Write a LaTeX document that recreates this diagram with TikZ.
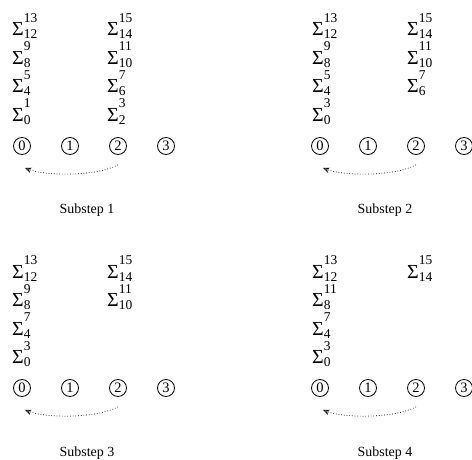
\documentclass[tikz,border=0pt]{standalone}
\usepackage{fontspec}
\setmainfont{Liberation Serif}
\usetikzlibrary{arrows.meta}
\newcommand{\sgm}[2]{{\fontsize{20}{20}\selectfont Σ}{\fontsize{13.5}{13.5}\selectfont\rlap{\raisebox{13.5bp}{#1}}\raisebox{-3bp}{#2}}}
\newcommand{\mkpanel}[4]{%
  \begin{scope}[shift={(#2,#3)}]
    \node[proc] (#1c0) at (22,146) {0};
    \node[proc] (#1c1) at (70,146) {1};
    \node[proc] (#1c2) at (118,146) {2};
    \node[proc] (#1c3) at (166,146) {3};
    \coordinate (#1s) at ([shift={(0,10)}]#1c2.south);
    \coordinate (#1e) at ([shift={(3,13)}]#1c0.south);
    \draw[flow] (#1s) .. controls +(-23,12) and +(20,8) .. (#1e);
    \node[lab] (#1lab) at (87,214) {#4};
  \end{scope}}
\begin{document}
\begin{tikzpicture}[x=1bp,y=-1bp,
  sigma/.style={anchor=base west,inner sep=0pt},
  proc/.style={draw,circle,minimum size=17bp,inner sep=0pt,line width=0.8bp,font=\fontsize{14.5}{14.5}\selectfont},
  lab/.style={anchor=base,inner sep=0pt,font=\fontsize{14}{14}\selectfont},
  flow/.style={dotted,line width=0.7bp,-{Stealth[length=6.5bp,width=5.5bp,open,line width=0.7bp]}}]
\useasboundingbox (0,0) rectangle (472,460);
\mkpanel{A}{0}{0}{Substep 1}
\mkpanel{B}{298}{0}{Substep 2}
\mkpanel{C}{0}{242}{Substep 3}
\mkpanel{D}{298}{242}{Substep 4}
% panel 1
\node[sigma] (A1) at (12,36) {\sgm{13}{12}};
\node[sigma] (A2) at (12,64.5) {\sgm{9}{8}};
\node[sigma] (A3) at (12,93) {\sgm{5}{4}};
\node[sigma] (A4) at (12,121.5) {\sgm{1}{0}};
\node[sigma] (A5) at (107,36) {\sgm{15}{14}};
\node[sigma] (A6) at (107,64.5) {\sgm{11}{10}};
\node[sigma] (A7) at (107,93) {\sgm{7}{6}};
\node[sigma] (A8) at (107,121.5) {\sgm{3}{2}};
% panel 2
\node[sigma] (B1) at (312,36) {\sgm{13}{12}};
\node[sigma] (B2) at (312,64.5) {\sgm{9}{8}};
\node[sigma] (B3) at (312,93) {\sgm{5}{4}};
\node[sigma] (B4) at (312,121.5) {\sgm{3}{0}};
\node[sigma] (B5) at (407,36) {\sgm{15}{14}};
\node[sigma] (B6) at (407,64.5) {\sgm{11}{10}};
\node[sigma] (B7) at (407,93) {\sgm{7}{6}};
% panel 3
\node[sigma] (C1) at (12,278) {\sgm{13}{12}};
\node[sigma] (C2) at (12,306.5) {\sgm{9}{8}};
\node[sigma] (C3) at (12,335) {\sgm{7}{4}};
\node[sigma] (C4) at (12,363.5) {\sgm{3}{0}};
\node[sigma] (C5) at (107,278) {\sgm{15}{14}};
\node[sigma] (C6) at (107,306.5) {\sgm{11}{10}};
% panel 4
\node[sigma] (D1) at (312,278) {\sgm{13}{12}};
\node[sigma] (D2) at (312,306.5) {\sgm{11}{8}};
\node[sigma] (D3) at (312,335) {\sgm{7}{4}};
\node[sigma] (D4) at (312,363.5) {\sgm{3}{0}};
\node[sigma] (D5) at (407,278) {\sgm{15}{14}};
\end{tikzpicture}
\end{document}
